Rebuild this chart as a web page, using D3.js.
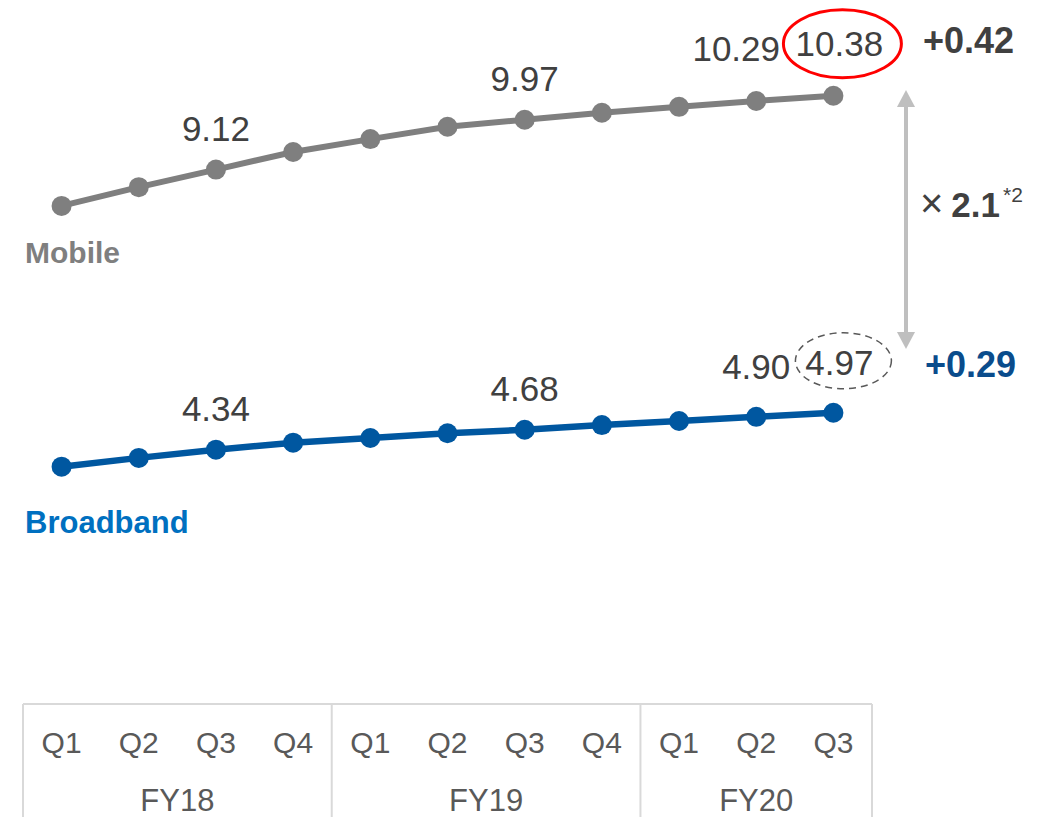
<!DOCTYPE html>
<html>
<head>
<meta charset="utf-8">
<script src="https://cdn.jsdelivr.net/npm/d3@7"></script>
<style>
  body { margin: 0; background: #fff; }
  svg { display: block; font-family: "Liberation Sans", Arial, sans-serif; }
</style>
</head>
<body>
<svg id="chart" width="1056" height="817"></svg>
<script>
// quarters and fiscal years
var quarters = ["Q1", "Q2", "Q3", "Q4", "Q1", "Q2", "Q3", "Q4", "Q1", "Q2", "Q3"];
var fiscalYears = ["FY18", "FY19", "FY20"];
var quartersPerYear = [4, 4, 3];

// series values
var mobile = [8.50, 8.82, 9.12, 9.42, 9.64, 9.85, 9.97, 10.09, 10.19, 10.29, 10.38];
var broadband = [4.05, 4.20, 4.34, 4.46, 4.54, 4.62, 4.68, 4.76, 4.83, 4.90, 4.97];

// which points get a value label
var mobileLabelIdx = [2, 6, 9, 10];
var broadbandLabelIdx = [2, 6, 9, 10];

var svg = d3.select("#chart");

var x = d3.scaleBand()
  .domain(d3.range(quarters.length))
  .range([23, 872]);

var y = d3.scaleLinear()
  .domain([4, 10.5])
  .range([469.6, 88.7]);

var cx = function(i) { return x(i) + x.bandwidth() / 2; };

var line = d3.line()
  .x(function(d, i) { return cx(i); })
  .y(function(d) { return y(d); });

function drawSeries(values, color, width) {
  svg.append("path")
    .datum(values)
    .attr("d", line)
    .attr("fill", "none")
    .attr("stroke", color)
    .attr("stroke-width", width);

  svg.append("g").selectAll("circle")
    .data(values)
    .join("circle")
    .attr("cx", function(d, i) { return cx(i); })
    .attr("cy", function(d) { return y(d); })
    .attr("r", 10)
    .attr("fill", color);
}

drawSeries(mobile, "#7f7f7f", 6);
drawSeries(broadband, "#0057a0", 6.5);

// value labels
function labelSeries(values, idx, prevShift, lift) {
  var last = values.length - 1;
  svg.append("g").selectAll("text")
    .data(idx)
    .join("text")
    .attr("x", function(i) {
      if (i == last) return cx(i) + 6;
      if (i == last - 1) return cx(i) + prevShift;
      return cx(i);
    })
    .attr("y", function(i) {
      return y(values[i]) - (i >= last - 1 ? lift : 29);
    })
    .attr("text-anchor", "middle")
    .attr("font-size", 35)
    .attr("fill", "#404040")
    .text(function(i) { return d3.format(".2f")(values[i]); });
}
labelSeries(mobile, mobileLabelIdx, -20, 40);
labelSeries(broadband, broadbandLabelIdx, 0, 38);

var lastI = quarters.length - 1;

// red ellipse round the latest mobile value
svg.append("ellipse")
  .attr("cx", cx(lastI) + 9)
  .attr("cy", y(mobile[lastI]) - 52)
  .attr("rx", 59)
  .attr("ry", 34)
  .attr("fill", "none")
  .attr("stroke", "#ff0000")
  .attr("stroke-width", 3);

// dashed ellipse round the latest broadband value
svg.append("ellipse")
  .attr("cx", cx(lastI) + 10)
  .attr("cy", y(broadband[lastI]) - 52)
  .attr("rx", 48)
  .attr("ry", 28)
  .attr("fill", "none")
  .attr("stroke", "#595959")
  .attr("stroke-width", 1.5)
  .attr("stroke-dasharray", "7,5");

// series names
svg.append("text")
  .attr("x", 25).attr("y", 263)
  .attr("font-size", 30).attr("font-weight", "bold")
  .attr("fill", "#7f7f7f")
  .text("Mobile");

svg.append("text")
  .attr("x", 25).attr("y", 533)
  .attr("font-size", 31).attr("font-weight", "bold")
  .attr("fill", "#0070c0")
  .text("Broadband");

// right-hand annotations
svg.append("text")
  .attr("x", 923).attr("y", 53)
  .attr("font-size", 36).attr("font-weight", "bold")
  .attr("fill", "#404040")
  .text("+0.42");

svg.append("text")
  .attr("x", 925).attr("y", 377)
  .attr("font-size", 36).attr("font-weight", "bold")
  .attr("fill", "#0a4c8c")
  .text("+0.29");

// double-headed arrow
var ax = 906, ayTop = 90, ayBot = 349;
svg.append("line")
  .attr("x1", ax).attr("x2", ax)
  .attr("y1", ayTop + 14).attr("y2", ayBot - 14)
  .attr("stroke", "#bfbfbf").attr("stroke-width", 4);
svg.append("path")
  .attr("d", "M" + ax + "," + ayTop + "L" + (ax - 9) + "," + (ayTop + 17) + "L" + (ax + 9) + "," + (ayTop + 17) + "Z")
  .attr("fill", "#bfbfbf");
svg.append("path")
  .attr("d", "M" + ax + "," + ayBot + "L" + (ax - 9) + "," + (ayBot - 17) + "L" + (ax + 9) + "," + (ayBot - 17) + "Z")
  .attr("fill", "#bfbfbf");

var ratio = svg.append("text")
  .attr("x", 920).attr("y", 217)
  .attr("fill", "#404040");
ratio.append("tspan").attr("font-size", 40).text("\u00d7");
ratio.append("tspan").attr("font-size", 35).attr("font-weight", "bold").attr("dx", 8).text("2.1");
ratio.append("tspan").attr("font-size", 21).attr("dy", -15).attr("dx", 3).text("*2");

// table under the chart
var tableTop = 704, tableBottom = 817;
svg.append("line")
  .attr("x1", x(0)).attr("x2", x(lastI) + x.bandwidth())
  .attr("y1", tableTop).attr("y2", tableTop)
  .attr("stroke", "#d9d9d9").attr("stroke-width", 2);

var bounds = [0];
quartersPerYear.forEach(function(n, k) { bounds.push(bounds[k] + n); });
var edge = function(b) { return b < quarters.length ? x(b) : x(lastI) + x.bandwidth(); };

svg.append("g").selectAll("line")
  .data(bounds)
  .join("line")
  .attr("x1", edge)
  .attr("x2", edge)
  .attr("y1", tableTop).attr("y2", tableBottom)
  .attr("stroke", "#d9d9d9").attr("stroke-width", 2);

svg.append("g").selectAll("text")
  .data(quarters)
  .join("text")
  .attr("x", function(d, i) { return cx(i); })
  .attr("y", 753)
  .attr("text-anchor", "middle")
  .attr("font-size", 30)
  .attr("fill", "#595959")
  .text(function(d) { return d; });

svg.append("g").selectAll("text")
  .data(fiscalYears)
  .join("text")
  .attr("x", function(d, k) { return (edge(bounds[k]) + edge(bounds[k + 1])) / 2; })
  .attr("y", 811)
  .attr("text-anchor", "middle")
  .attr("font-size", 31)
  .attr("fill", "#595959")
  .text(function(d) { return d; });
</script>
</body>
</html>
